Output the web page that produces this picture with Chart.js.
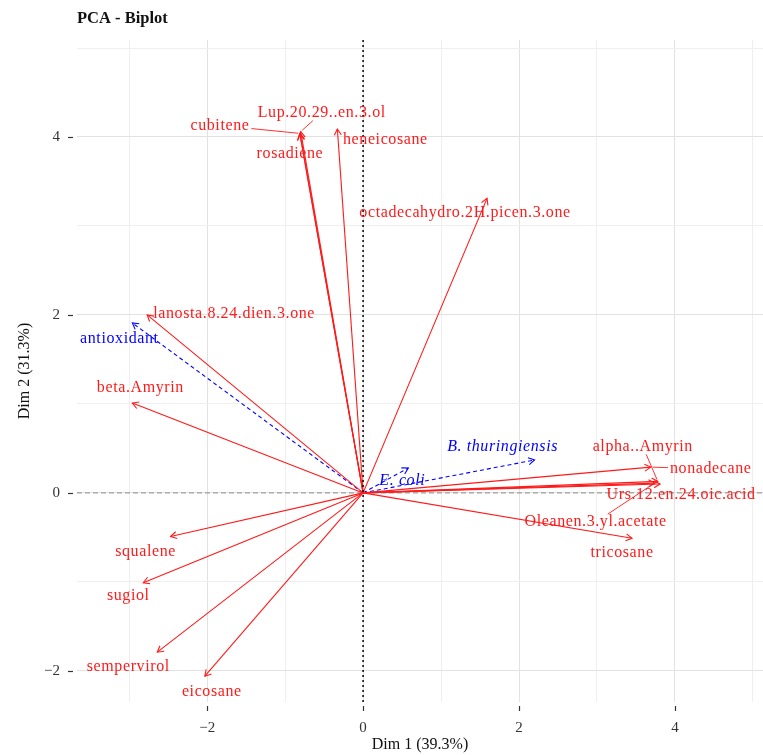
<!DOCTYPE html>
<html>
<head>
<meta charset="utf-8">
<script src="https://cdn.jsdelivr.net/npm/chart.js@4/dist/chart.umd.min.js"></script>
<style>
  html, body { margin: 0; padding: 0; background: #ffffff; }
  canvas { display: block; }
</style>
</head>
<body>
<canvas id="biplot" width="763" height="755"></canvas>
<script>
// Active variables: loadings on Dim 1 and Dim 2
const varNames = [
  'cubitene', 'Lup.20.29..en.3.ol', 'rosadiene', 'heneicosane',
  'octadecahydro.2H.picen.3.one', 'lanosta.8.24.dien.3.one', 'beta.Amyrin',
  'squalene', 'sugiol', 'sempervirol', 'eicosane',
  'alpha..Amyrin', 'nonadecane', 'Urs.12.en.24.oic.acid',
  'Oleanen.3.yl.acetate', 'tricosane'
];
const varDim1 = [-0.81, -0.80, -0.81, -0.33, 1.59, -2.77, -2.96, -2.47, -2.82, -2.64, -2.03, 3.78, 3.69, 3.81, 3.74, 3.45];
const varDim2 = [ 4.04,  4.06,  4.03,  4.09, 3.31,  2.00,  1.01, -0.49, -1.01, -1.79, -2.06, 0.13, 0.29, 0.10, 0.11, -0.51];

// Supplementary quantitative variables
const supNames = ['antioxidant', 'B. thuringiensis', 'E. coli'];
const supDim1 = [-2.96, 2.20, 0.58];
const supDim2 = [ 1.91, 0.37, 0.28];

// Axis tick labels
const xTickValues = [-2, 0, 2, 4];
const yTickValues = [-2, 0, 2, 4];

// Label placement (pixel offset of label centre from the arrow tip) and
// whether a thin leader segment joins the label to its arrow.
const labelPlacement = {
  'cubitene':                     { dx: -80, dy: -8,  leader: true },
  'Lup.20.29..en.3.ol':           { dx: 21,  dy: -19, leader: true },
  'rosadiene':                    { dx: -10, dy: 19 },
  'heneicosane':                  { dx: 48,  dy: 11 },
  'octadecahydro.2H.picen.3.one': { dx: -22, dy: 14 },
  'lanosta.8.24.dien.3.one':      { dx: 87,  dy: -1 },
  'beta.Amyrin':                  { dx: 8,   dy: -15 },
  'squalene':                     { dx: -25, dy: 15 },
  'sugiol':                       { dx: -15, dy: 13 },
  'sempervirol':                  { dx: -29, dy: 15 },
  'eicosane':                     { dx: 7,   dy: 16 },
  'alpha..Amyrin':                { dx: -15, dy: -35, leader: true },
  'nonadecane':                   { dx: 60,  dy: 2,   leader: true },
  'Urs.12.en.24.oic.acid':        { dx: 21,  dy: 11 },
  'Oleanen.3.yl.acetate':         { dx: -59, dy: 39,  leader: true },
  'tricosane':                    { dx: -10, dy: 15 },
  'antioxidant':                  { dx: -13, dy: 16 },
  'B. thuringiensis':             { dx: -32, dy: -13 },
  'E. coli':                      { dx: -6,  dy: 13 }
};

const RED = '#ff1a1a';
const BLUE = '#0000ff';
const SERIF = '"Liberation Serif", "DejaVu Serif", serif';

function arrowDataset(name, x, y, color, dashed, italic) {
  return {
    label: name,
    data: [{ x: 0, y: 0 }, { x: x, y: y }],
    showLine: true,
    fill: false,
    borderColor: color,
    borderWidth: 1.1,
    borderDash: dashed ? [4, 3] : [],
    pointRadius: 0,
    pointHoverRadius: 0,
    textColor: color,
    italic: !!italic
  };
}

const datasets = [];
varNames.forEach((n, i) => datasets.push(arrowDataset(n, varDim1[i], varDim2[i], RED, false, false)));
supNames.forEach((n, i) => datasets.push(arrowDataset(n, supDim1[i], supDim2[i], BLUE, true, n !== 'antioxidant')));

function fmtTick(v) {
  return v < 0 ? '\u2212' + Math.abs(v) : String(v);
}

function gridColor(ctx) {
  const v = ctx.tick ? ctx.tick.value : 0;
  return Math.abs(v % 2) === 0 ? '#e2e2e2' : '#efefef';
}

// Draws the zero reference lines, arrow heads, labels and axis tick marks.
const biplotPlugin = {
  id: 'biplot',
  beforeDatasetsDraw(chart) {
    const { ctx, chartArea: a, scales: { y } } = chart;
    const y0 = y.getPixelForValue(0);
    ctx.save();
    ctx.beginPath();
    ctx.rect(a.left, a.top, a.right - a.left, a.bottom - a.top);
    ctx.clip();
    // horizontal zero line
    ctx.strokeStyle = '#8a8a8a';
    ctx.lineWidth = 1;
    ctx.setLineDash([5, 3]);
    ctx.beginPath();
    ctx.moveTo(a.left, y0); ctx.lineTo(a.right, y0);
    ctx.stroke();
    ctx.restore();
  },
  afterDatasetsDraw(chart) {
    const { ctx, chartArea: a, scales: { x, y } } = chart;
    const x0 = x.getPixelForValue(0), y0 = y.getPixelForValue(0);
    ctx.save();
    // vertical zero line
    ctx.strokeStyle = '#111';
    ctx.lineWidth = 1.6;
    ctx.setLineDash([2, 3]);
    ctx.beginPath();
    ctx.moveTo(x0, a.top); ctx.lineTo(x0, a.bottom);
    ctx.stroke();
    ctx.setLineDash([]);

    chart.data.datasets.forEach(ds => {
      const p = ds.data[1];
      const tx = x.getPixelForValue(p.x), ty = y.getPixelForValue(p.y);
      const ang = Math.atan2(ty - y0, tx - x0);
      // open arrow head
      const L = 7;
      ctx.strokeStyle = ds.borderColor;
      ctx.lineWidth = 1.1;
      ctx.beginPath();
      ctx.moveTo(tx - L * Math.cos(ang - Math.PI / 6), ty - L * Math.sin(ang - Math.PI / 6));
      ctx.lineTo(tx, ty);
      ctx.lineTo(tx - L * Math.cos(ang + Math.PI / 6), ty - L * Math.sin(ang + Math.PI / 6));
      ctx.stroke();

      // label
      const pl = labelPlacement[ds.label] || { dx: 0, dy: -10 };
      const lx = tx + pl.dx, ly = ty + pl.dy;
      ctx.font = (ds.italic ? 'italic ' : '') + '16px ' + SERIF;
      ctx.letterSpacing = '0.6px';
      const w = ctx.measureText(ds.label).width;
      const h = 12;
      if (pl.leader) {
        // clip the leader at the label's box edge
        const dxl = tx - lx, dyl = ty - ly;
        const sx = dxl !== 0 ? (w / 2 + 2) / Math.abs(dxl) : Infinity;
        const sy = dyl !== 0 ? (h / 2 + 2) / Math.abs(dyl) : Infinity;
        const s = Math.min(sx, sy, 1);
        const len = Math.hypot(dxl, dyl);
        const e = Math.max(0, 1 - 2 / len);
        ctx.strokeStyle = ds.borderColor;
        ctx.lineWidth = 0.9;
        ctx.beginPath();
        ctx.moveTo(lx + dxl * s, ly + dyl * s);
        ctx.lineTo(lx + dxl * e, ly + dyl * e);
        ctx.stroke();
      }
      ctx.fillStyle = ds.textColor;
      ctx.textAlign = 'center';
      ctx.textBaseline = 'middle';
      ctx.fillText(ds.label, lx, ly);
      ctx.letterSpacing = '0px';
    });
    ctx.restore();
  },
  afterDraw(chart) {
    const { ctx, chartArea: a, scales: { x, y } } = chart;
    ctx.save();
    ctx.strokeStyle = '#333';
    ctx.lineWidth = 1.2;
    xTickValues.forEach(v => {
      const px = Math.round(x.getPixelForValue(v)) + 0.5;
      ctx.beginPath();
      ctx.moveTo(px, a.bottom + 4); ctx.lineTo(px, a.bottom + 9);
      ctx.stroke();
    });
    yTickValues.forEach(v => {
      const py = Math.round(y.getPixelForValue(v)) + 0.5;
      ctx.beginPath();
      ctx.moveTo(a.left - 9, py); ctx.lineTo(a.left - 4, py);
      ctx.stroke();
    });
    ctx.restore();
  }
};

const tickFont = { family: SERIF, size: 15 };
const titleFont = { family: SERIF, size: 16, lineHeight: 1.2 };

new Chart(document.getElementById('biplot'), {
  type: 'scatter',
  data: { datasets },
  options: {
    responsive: false,
    animation: false,
    devicePixelRatio: 1,
    events: [],
    layout: { padding: 0, autoPadding: false },
    plugins: {
      legend: { display: false },
      tooltip: { enabled: false },
      title: {
        display: true,
        text: 'PCA - Biplot',
        align: 'start',
        fullSize: false,
        color: '#111',
        font: { family: SERIF, size: 16.5, weight: 'bold', lineHeight: 1.2 },
        padding: { top: 9, bottom: 11.2 }
      }
    },
    scales: {
      x: {
        type: 'linear',
        position: 'bottom',
        min: -3.67,
        max: 5.13,
        afterFit(s) { s.height = 53; s.paddingLeft = 0; s.paddingRight = 0; },
        border: { display: false },
        grid: { color: gridColor, lineWidth: 1, drawTicks: false },
        ticks: {
          stepSize: 1,
          includeBounds: false,
          autoSkip: false,
          maxRotation: 0,
          padding: 17,
          color: '#333',
          font: tickFont,
          callback: v => (xTickValues.includes(v) ? fmtTick(v) : '')
        },
        title: {
          display: true,
          text: 'Dim 1 (39.3%)',
          color: '#111',
          font: titleFont,
          padding: { top: 0, bottom: 1 }
        }
      },
      y: {
        type: 'linear',
        position: 'left',
        min: -2.35,
        max: 5.09,
        afterFit(s) { s.width = 77; s.paddingTop = 0; s.paddingBottom = 0; },
        border: { display: false },
        grid: { color: gridColor, lineWidth: 1, drawTicks: false },
        ticks: {
          stepSize: 1,
          includeBounds: false,
          autoSkip: false,
          padding: 17,
          color: '#333',
          font: tickFont,
          callback: v => (yTickValues.includes(v) ? fmtTick(v) : '')
        },
        title: {
          display: true,
          text: 'Dim 2 (31.3%)',
          color: '#111',
          font: titleFont,
          padding: { top: 15, bottom: 0 }
        }
      }
    }
  },
  plugins: [biplotPlugin]
});
</script>
</body>
</html>
